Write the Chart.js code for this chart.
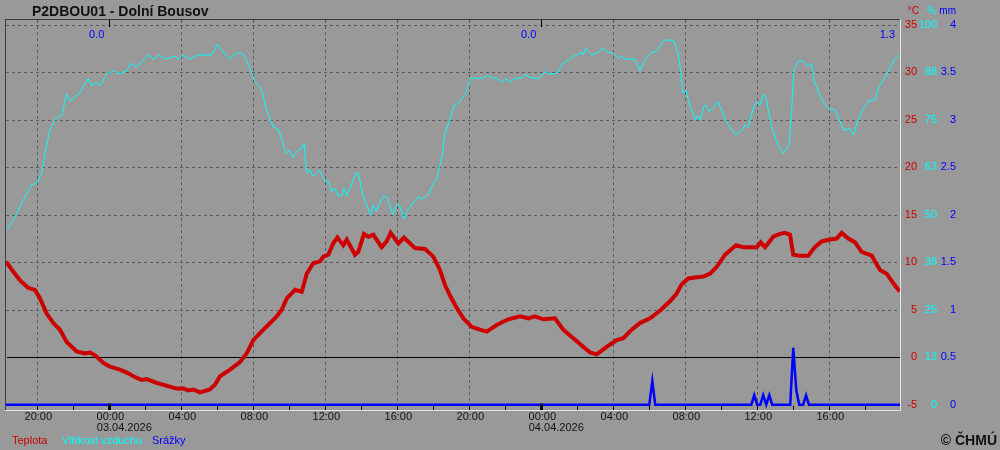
<!DOCTYPE html>
<html>
<head>
<meta charset="utf-8">
<style>
html, body { margin: 0; padding: 0; background: #999999; }
canvas { display: block; }
</style>
</head>
<body>
<canvas id="meteoChart" width="1000" height="450"></canvas>
<script src="https://cdn.jsdelivr.net/npm/chart.js@4.4.1/dist/chart.umd.min.js"></script>
<script>
// hours counted from 03.04.2026 00:00
const tempHours = [-5.67,-5.33,-4.96,-4.5,-4.13,-3.85,-3.48,-3.11,-2.74,-2.37,-1.81,-1.35,-1.07,-0.79,-0.33,0.04,0.59,1.06,1.33,1.8,2.07,2.63,3.19,3.74,4.11,4.39,4.67,5.04,5.59,5.87,6.15,6.71,7.26,7.63,8.0,8.56,8.93,9.3,9.58,9.86,10.32,10.69,10.97,11.33,11.71,11.89,12.17,12.44,12.67,13.0,13.19,13.65,13.83,14.15,14.39,14.67,15.13,15.41,15.63,16.06,16.37,16.98,17.54,18.0,18.37,18.65,18.93,19.3,19.67,20.13,20.59,20.97,21.52,22.17,22.82,23.28,23.65,24.11,24.76,25.22,25.78,26.33,26.71,27.08,27.63,28.19,28.56,29.02,29.48,30.04,30.59,31.15,31.52,31.8,32.17,32.54,33.0,33.37,33.74,34.21,34.82,35.22,35.97,36.19,36.43,36.89,37.26,37.54,37.82,38.0,38.37,38.83,39.2,39.57,40.04,40.41,40.69,41.06,41.43,41.8,42.36,42.82,43.19,43.56,43.85];
const tempValues = [9.9,9.0,8.1,7.3,7.1,6.2,4.6,3.6,2.9,1.6,0.6,0.4,0.5,0.2,-0.6,-1.0,-1.3,-1.7,-2.0,-2.4,-2.3,-2.7,-3.0,-3.3,-3.3,-3.5,-3.4,-3.7,-3.4,-2.9,-2.0,-1.3,-0.5,0.4,1.8,2.9,3.6,4.3,5.0,6.2,7.1,6.9,8.8,9.9,10.1,10.6,10.8,12.0,12.6,11.8,12.4,10.8,11.1,13.0,12.7,12.9,11.6,12.2,13.1,12.0,12.6,11.5,11.4,10.6,9.2,7.6,6.5,5.2,4.1,3.2,2.9,2.7,3.4,4.0,4.3,4.1,4.3,4.0,4.1,2.9,2.0,1.1,0.5,0.3,1.1,1.8,2.0,2.9,3.6,4.1,4.9,5.9,6.7,7.7,8.3,8.4,8.5,8.8,9.5,10.8,11.8,11.6,11.6,12.1,11.6,12.7,13.0,13.1,12.9,10.8,10.7,10.7,11.6,12.2,12.4,12.5,13.1,12.5,12.1,11.1,10.7,9.2,8.8,7.8,7.1];

const humHours = [-5.67,-5.14,-4.68,-4.31,-4.03,-3.76,-3.57,-3.33,-3.02,-2.64,-2.37,-2.18,-1.63,-1.17,-0.98,-0.7,-0.52,-0.15,0.22,0.5,0.96,1.19,1.52,2.17,2.44,2.78,3.09,3.65,3.83,4.08,4.48,4.89,5.69,6.0,6.67,6.89,7.17,7.5,7.91,8.09,8.47,8.74,9.11,9.39,9.82,10.0,10.19,10.5,10.69,10.82,10.97,11.15,11.33,11.67,11.98,12.17,12.36,12.54,12.72,12.91,13.04,13.19,13.71,13.83,14.11,14.52,14.67,14.82,15.22,15.44,15.74,16.0,16.15,16.37,16.61,17.17,17.35,17.72,18.0,18.19,18.52,18.65,18.89,19.15,19.39,19.82,20.08,20.78,21.0,21.24,21.52,21.8,22.04,22.22,22.54,22.91,23.09,23.46,23.89,24.2,24.48,24.89,25.19,25.5,25.78,26.06,26.24,26.33,26.48,26.8,27.07,27.41,27.72,28.0,28.28,28.46,28.65,29.2,29.48,29.76,30.13,30.37,30.87,31.37,31.61,31.76,31.86,32.04,32.26,32.54,32.67,32.82,33.04,33.19,33.33,33.56,33.83,34.11,34.39,34.82,35.13,35.32,35.5,35.82,36.0,36.15,36.33,36.48,36.8,37.17,37.44,37.78,37.91,38.04,38.28,38.52,38.83,39.02,39.15,39.48,39.76,40.0,40.31,40.56,40.82,41.11,41.33,41.61,41.89,42.17,42.54,42.72,43.0,43.37,43.65,43.85];
const humValues = [46.0,50.4,54.8,57.9,58.3,61.0,66.2,71.9,75.2,76.3,81.8,80.0,82.2,86.0,84.0,84.9,84.0,87.1,87.9,87.1,87.9,89.9,88.9,92.1,91.0,92.1,91.0,91.8,91.0,92.1,91.0,92.1,92.1,94.9,91.0,92.0,92.8,92.1,87.3,85.1,82.9,77.6,73.1,72.6,66.2,67.1,65.1,67.1,67.3,68.9,61.0,61.8,60.1,61.8,58.9,58.8,56.1,57.0,55.0,55.0,57.0,55.0,61.0,61.0,54.8,50.0,52.6,50.9,55.0,54.6,50.0,52.9,52.2,48.9,51.5,54.8,54.1,55.3,58.3,59.4,66.2,71.5,74.6,78.7,79.4,82.2,86.0,86.0,86.8,86.0,86.0,84.9,85.8,84.9,86.0,86.0,87.0,86.0,86.0,87.7,87.1,87.3,89.9,90.6,91.7,92.3,92.9,92.1,93.9,92.1,92.5,93.9,92.8,92.7,91.2,91.9,91.0,91.0,88.0,90.8,92.8,93.0,96.1,95.9,92.5,87.3,82.0,82.7,78.7,75.0,76.1,75.0,78.7,78.7,77.2,78.3,79.8,76.3,73.7,71.1,72.2,73.7,73.1,78.7,79.8,78.9,81.8,80.9,73.2,68.2,66.2,68.6,77.6,88.2,90.6,90.6,89.1,89.9,85.5,81.3,79.0,77.8,77.8,75.0,72.2,72.8,71.1,75.0,78.1,80.0,80.3,83.3,85.5,88.6,91.2,92.1];

const rainHours = [-5.74,30.0,30.17,30.33,35.67,35.83,36.0,36.17,36.33,36.5,36.67,36.83,37.83,38.0,38.17,38.33,38.55,38.71,38.87,43.93];
const rainValues = [0,0,0.25,0,0,0.1,0,0,0.1,0,0.1,0,0,0.6,0.15,0,0,0.1,0,0];

const dayEnds = [0, 24, 43.93];
const daySums = ['0.0', '0.0', '1.3'];

const timeTicks = [-4, 0, 4, 8, 12, 16, 20, 24, 28, 32, 36, 40];
const timeLabels = ['20:00','00:00','04:00','08:00','12:00','16:00','20:00','00:00','04:00','08:00','12:00','16:00'];
const dateTicks = [0, 24];
const dateLabels = ['03.04.2026', '04.04.2026'];

const tempTicks = [-5, 0, 5, 10, 15, 20, 25, 30, 35];
const humLabels = ['0','13','25','38','50','63','75','88','100'];
const rainLabels = ['0','0.5','1','1.5','2','2.5','3','3.5','4'];

const RED = '#cc0000', CYAN = '#00ffff', BLUE = '#0000ff';
const FONT = '"Liberation Sans", Arial, sans-serif';

function pairs(xs, ys) {
	return xs.map((h, i) => ({x: h, y: ys[i]}));
}

const framePlugin = {
	id: 'meteoFrame',
	beforeDatasetsDraw(chart) {
		const {ctx, chartArea: a, scales: {x, y}} = chart;
		ctx.save();
		ctx.strokeStyle = '#5a5a5a';
		ctx.lineWidth = 1;
		ctx.setLineDash([3, 3]);
		tempTicks.forEach(t => {
			if (t <= 0) return;
			const py = Math.round(y.getPixelForValue(t)) + 0.5;
			ctx.beginPath(); ctx.moveTo(a.left, py); ctx.lineTo(a.right, py); ctx.stroke();
		});
		timeTicks.forEach(h => {
			if (h % 24 === 0) return;
			const px = Math.round(x.getPixelForValue(h)) + 0.5;
			ctx.beginPath(); ctx.moveTo(px, a.top); ctx.lineTo(px, a.bottom); ctx.stroke();
		});
		ctx.setLineDash([]);
		// 0 °C line
		ctx.strokeStyle = '#000';
		const y0 = Math.round(y.getPixelForValue(0)) + 0.5;
		ctx.beginPath(); ctx.moveTo(a.left + 1, y0); ctx.lineTo(a.right, y0); ctx.stroke();
		ctx.restore();
	},
	afterDraw(chart) {
		const {ctx, chartArea: a, scales: {x, y}} = chart;
		ctx.save();
		// small ticks at the bottom, every 2 h
		const yb = y.getPixelForValue(-5);
		ctx.fillStyle = '#000';
		for (let h = -4; h <= 42; h += 2) {
			const px = Math.round(x.getPixelForValue(h));
			if (h % 24 === 0) {
				ctx.fillRect(px - 1, yb - 1, 3, a.bottom - yb + 1);
				ctx.fillRect(px, a.top, 1, 7);
			} else {
				ctx.fillRect(px, yb + 1, 1, a.bottom - yb - 1);
			}
		}
		// frame
		ctx.fillStyle = '#3c3c3c';
		ctx.fillRect(a.left - 1, a.top - 1, a.right - a.left + 1, 1);
		ctx.fillRect(a.left - 1, a.top - 1, 1, a.bottom - a.top + 1);
		ctx.fillStyle = '#e4e4e4';
		ctx.fillRect(a.left - 1, a.bottom, a.right - a.left + 2, 1);
		ctx.fillRect(a.right, a.top - 1, 1, a.bottom - a.top + 2);

		// title
		ctx.fillStyle = '#111';
		ctx.font = 'bold 14px ' + FONT;
		ctx.textBaseline = 'middle';
		ctx.textAlign = 'left';
		ctx.fillText('P2DBOU01 - Dolní Bousov', 32, 12);

		// right axes
		ctx.font = '11px ' + FONT;
		ctx.textAlign = 'right';
		tempTicks.forEach((t, i) => {
			const py = y.getPixelForValue(t);
			ctx.fillStyle = RED; ctx.fillText(String(t), 917, py);
			ctx.fillStyle = CYAN; ctx.fillText(humLabels[i], 937, py);
			ctx.fillStyle = BLUE; ctx.fillText(rainLabels[i], 956, py);
		});
		ctx.font = '10px ' + FONT;
		ctx.fillStyle = RED; ctx.fillText('°C', 919, 11);
		ctx.fillStyle = CYAN; ctx.fillText('%', 936, 11);
		ctx.fillStyle = BLUE; ctx.fillText('mm', 956, 11);

		// daily precipitation totals
		ctx.font = '11px ' + FONT;
		dayEnds.forEach((h, i) => {
			ctx.fillStyle = BLUE;
			ctx.fillText(daySums[i], x.getPixelForValue(h) - 5, 35);
		});

		// time axis
		ctx.textAlign = 'center';
		ctx.fillStyle = '#111';
		timeTicks.forEach((h, i) => ctx.fillText(timeLabels[i], x.getPixelForValue(h) + 1, 417));
		dateTicks.forEach((h, i) => ctx.fillText(dateLabels[i], x.getPixelForValue(h) + 15, 428));

		// legend
		ctx.textAlign = 'left';
		ctx.fillStyle = RED; ctx.fillText('Teplota', 12, 441);
		ctx.fillStyle = CYAN; ctx.fillText('Vlhkost vzduchu', 62, 441);
		ctx.fillStyle = BLUE; ctx.fillText('Srážky', 152, 441);

		ctx.fillStyle = '#111';
		ctx.font = 'bold 14px ' + FONT;
		ctx.textAlign = 'right';
		ctx.fillText('© ČHMÚ', 997, 441);
		ctx.restore();
	}
};

const ctx = document.getElementById('meteoChart').getContext('2d');

const chart = new Chart(ctx, {
	type: 'line',
	data: {
		datasets: [
			{
				label: 'Teplota',
				data: pairs(tempHours, tempValues),
				yAxisID: 'y',
				borderColor: RED,
				borderWidth: 4,
				borderCapStyle: 'square'
			},
			{
				label: 'Vlhkost vzduchu',
				data: pairs(humHours, humValues),
				yAxisID: 'yH',
				borderColor: CYAN,
				borderWidth: 1
			},
			{
				label: 'Srážky',
				data: pairs(rainHours, rainValues),
				yAxisID: 'yP',
				borderColor: BLUE,
				borderWidth: 2.5
			}
		]
	},
	options: {
		responsive: false,
		animation: false,
		layout: { padding: { left: 6, right: 100, top: 20, bottom: 40 } },
		elements: { point: { radius: 0 }, line: { tension: 0 } },
		plugins: { legend: { display: false }, tooltip: { enabled: false } },
		scales: {
			x: { type: 'linear', min: -5.74, max: 43.93, display: false },
			y: { min: -5.558, max: 35.527, display: false },
			yH: { min: -1.395, max: 101.32, display: false },
			yP: { min: -0.0558, max: 4.0527, display: false }
		}
	},
	plugins: [framePlugin]
});
</script>
</body>
</html>
